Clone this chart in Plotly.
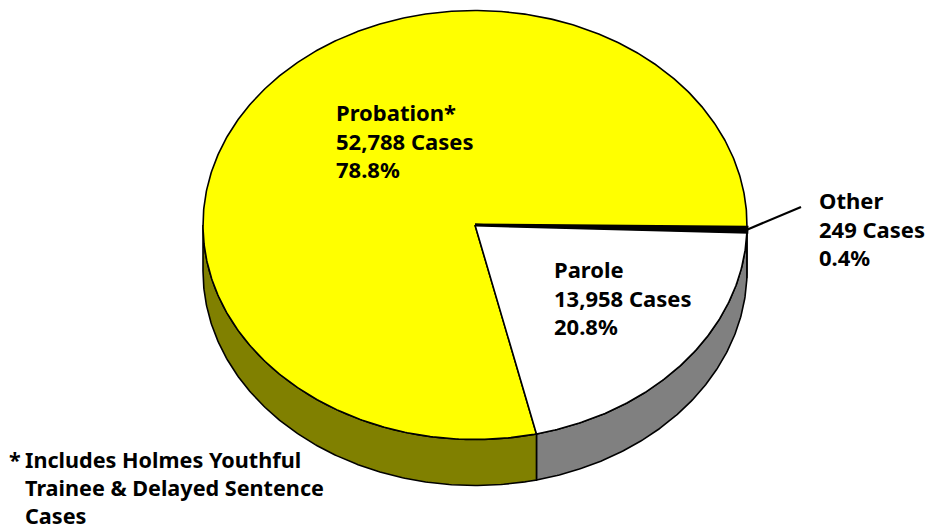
import numpy as np
import plotly.graph_objects as go

categories = ["Probation*", "Parole", "Other"]
cases = [52788, 13958, 249]
percents = ["78.8%", "20.8%", "0.4%"]
footnote_lines = ["Includes Holmes Youthful", "Trainee &amp; Delayed Sentence", "Cases"]

CX, CY, RX, RY, DEPTH = 475, 225, 272, 214.5, 46
START_DEG = 0.6
TOP = {"Probation*": "#FFFF00", "Parole": "#FFFFFF", "Other": "#000000"}
SIDE = {"Probation*": "#808000", "Parole": "#808080", "Other": "#000000"}
FONT = "Noto Sans"
FS = 22
FS_NOTE = 21.6

total = sum(cases)
order = ["Other", "Parole", "Probation*"]   # clockwise from 3 o'clock
angles = {}
a = START_DEG
for name in order:
    sweep = cases[categories.index(name)] / total * 360
    angles[name] = (a, a + sweep)
    a += sweep


def arc(a0, a1, dy=0.0):
    t = np.radians(np.linspace(a0, a1, max(int(abs(a1 - a0) * 2), 2) + 1))
    return CX + RX * np.cos(t), CY + RY * np.sin(t) + dy


fig = go.Figure()
line = dict(color="black", width=1.6)

# side walls (only the front half of the ellipse is visible)
for name in order:
    a0, a1 = angles[name]
    a1v = min(a1, 180)
    if a0 >= 180:
        continue
    x0, y0 = arc(a0, a1v)
    x1, y1 = arc(a1v, a0, DEPTH)
    fig.add_trace(go.Scatter(x=np.r_[x0, x1, x0[0]], y=np.r_[y0, y1, y0[0]], mode="lines",
                             fill="toself", fillcolor=SIDE[name], line=line, hoverinfo="skip"))

# top faces
for name in ["Probation*", "Parole", "Other"]:
    a0, a1 = angles[name]
    x, y = arc(a0, a1)
    edge = dict(color="black", width=3) if name == "Other" else line
    fig.add_trace(go.Scatter(x=np.r_[CX, x, CX], y=np.r_[CY, y, CY], mode="lines",
                             fill="toself", fillcolor=TOP[name], line=edge, hoverinfo="skip",
                             name=name))

# leader line for Other
mid = np.radians(sum(angles["Other"]) / 2)
fig.add_trace(go.Scatter(x=[CX + RX * np.cos(mid), 801], y=[CY + RY * np.sin(mid), 207], mode="lines",
                         line=dict(color="black", width=2.2), hoverinfo="skip"))

label_pos = {"Probation*": (336, 97), "Parole": (554, 254), "Other": (819, 185)}
annotations = []
for i, name in enumerate(categories):
    lx, ly = label_pos[name]
    annotations.append(dict(
        x=lx, y=ly, xref="x", yref="y", xanchor="left", yanchor="top", align="left",
        showarrow=False, borderpad=0, borderwidth=0,
        text=f"<b>{name}<br>{cases[i]:,} Cases<br>{percents[i]}</b>",
        font=dict(family=FONT, size=FS, color="black")))
annotations.append(dict(x=8, y=444, xref="x", yref="y", xanchor="left", yanchor="top", showarrow=False,
                        text="<b>*</b>", font=dict(family=FONT, size=FS_NOTE, color="black"), borderpad=0))
annotations.append(dict(x=24, y=444, xref="x", yref="y", xanchor="left", yanchor="top", align="left",
                        showarrow=False, borderpad=0,
                        text="<b>" + "<br>".join(footnote_lines) + "</b>",
                        font=dict(family=FONT, size=FS_NOTE, color="black")))

fig.update_layout(
    width=927, height=529, margin=dict(l=0, r=0, t=0, b=0), showlegend=False,
    paper_bgcolor="white", plot_bgcolor="white", annotations=annotations,
    xaxis=dict(range=[0, 927], visible=False, fixedrange=True),
    yaxis=dict(range=[529, 0], visible=False, fixedrange=True),
)
fig.write_html("out.html", config={"displayModeBar": False},
               post_script="document.body.style.margin='0';document.body.style.overflow='hidden';")
